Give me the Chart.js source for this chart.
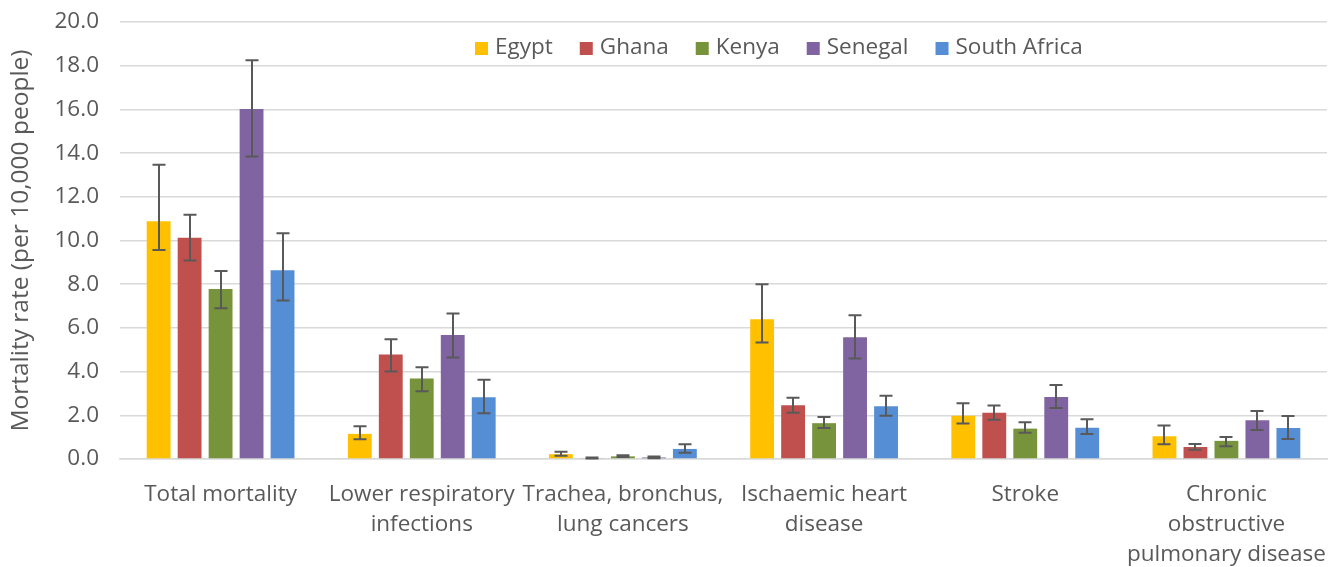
<!DOCTYPE html>
<html>
<head>
<meta charset="utf-8">
<script src="https://cdn.jsdelivr.net/npm/chart.js@4.4.0/dist/chart.umd.min.js"></script>
<style>
html, body { margin: 0; padding: 0; background: #fff; }
</style>
</head>
<body>
<canvas id="chart" width="1342" height="567"></canvas>
<script>
// categories on the x axis (multi-line labels)
var categories = [
  ["Total mortality"],
  ["Lower respiratory", "infections"],
  ["Trachea, bronchus,", "lung cancers"],
  ["Ischaemic heart", "disease"],
  ["Stroke"],
  ["Chronic", "obstructive", "pulmonary disease"]
];
var countries = ["Egypt", "Ghana", "Kenya", "Senegal", "South Africa"];
var colors = ["#FFC000", "#C0504D", "#77933C", "#8064A2", "#558ED5"];

// mortality rates per 10,000 people, with error bar ends
var egypt     = [10.88, 1.15, 0.22, 6.40, 1.98, 1.04];
var egyptLow  = [9.57, 0.90, 0.15, 5.33, 1.62, 0.67];
var egyptHigh = [13.47, 1.50, 0.33, 8.00, 2.55, 1.53];

var ghana     = [10.13, 4.78, 0.04, 2.46, 2.12, 0.55];
var ghanaLow  = [9.09, 4.00, 0.02, 2.12, 1.80, 0.42];
var ghanaHigh = [11.18, 5.48, 0.07, 2.80, 2.45, 0.69];

var kenya     = [7.78, 3.68, 0.12, 1.64, 1.39, 0.83];
var kenyaLow  = [6.90, 3.10, 0.09, 1.42, 1.20, 0.58];
var kenyaHigh = [8.60, 4.20, 0.17, 1.92, 1.68, 1.01];

var senegal     = [16.02, 5.68, 0.07, 5.57, 2.84, 1.77];
var senegalLow  = [13.84, 4.64, 0.04, 4.60, 2.33, 1.33];
var senegalHigh = [18.25, 6.66, 0.12, 6.58, 3.39, 2.20];

var southAfrica     = [8.64, 2.83, 0.46, 2.41, 1.43, 1.42];
var southAfricaLow  = [7.25, 2.09, 0.29, 1.98, 1.14, 0.92];
var southAfricaHigh = [10.33, 3.63, 0.67, 2.89, 1.82, 1.97];

var yTicks = { min: 0, max: 20, step: 2 };

var values = [egypt, ghana, kenya, senegal, southAfrica];
var lows = [egyptLow, ghanaLow, kenyaLow, senegalLow, southAfricaLow];
var highs = [egyptHigh, ghanaHigh, kenyaHigh, senegalHigh, southAfricaHigh];

var FONT = "'Open Sans', sans-serif";
var TEXT = "#595959";

var datasets = countries.map(function(name, i){
  return {
    label: name,
    data: values[i],
    errLow: lows[i],
    errHigh: highs[i],
    backgroundColor: colors[i],
    borderWidth: 0,
    categoryPercentage: 0.77,
    barPercentage: 0.77
  };
});

// draws the error bars from the y scale
var errorBars = {
  id: 'errorBars',
  afterDatasetsDraw: function(chart){
    var ctx = chart.ctx;
    var y = chart.scales.y;
    ctx.save();
    ctx.strokeStyle = "#595959";
    ctx.lineWidth = 2;
    chart.data.datasets.forEach(function(ds, i){
      var meta = chart.getDatasetMeta(i);
      meta.data.forEach(function(bar, j){
        var top = y.getPixelForValue(ds.errHigh[j]);
        var bot = y.getPixelForValue(ds.errLow[j]);
        var x = Math.round(bar.x);
        ctx.beginPath();
        ctx.moveTo(x, top); ctx.lineTo(x, bot);
        ctx.moveTo(x - 6.5, top); ctx.lineTo(x + 6.5, top);
        ctx.moveTo(x - 6.5, bot); ctx.lineTo(x + 6.5, bot);
        ctx.stroke();
      });
    });
    ctx.restore();
  }
};

// legend drawn inside the plot area like the excel one
var insideLegend = {
  id: 'insideLegend',
  afterDraw: function(chart, args, opts){
    var ctx = chart.ctx;
    ctx.save();
    ctx.font = "22.5px " + FONT;
    ctx.textBaseline = "middle";
    ctx.textAlign = "left";
    var x = opts.x;
    chart.data.datasets.forEach(function(ds){
      ctx.fillStyle = ds.backgroundColor;
      ctx.fillRect(x, opts.y - 6, 13, 13);
      x += 20;
      ctx.fillStyle = TEXT;
      ctx.fillText(ds.label, x, opts.y);
      x += ctx.measureText(ds.label).width + 27;
    });
    ctx.restore();
  }
};

var chart = new Chart(document.getElementById("chart").getContext("2d"), {
  type: 'bar',
  data: { labels: categories, datasets: datasets },
  plugins: [errorBars, insideLegend],
  options: {
    responsive: false,
    animation: false,
    layout: { padding: { top: 22, right: 15, left: 0, bottom: 0 } },
    plugins: {
      legend: { display: false },
      tooltip: { enabled: false },
      insideLegend: { x: 475, y: 48 }
    },
    scales: {
      x: {
        grid: { display: false },
        border: { display: true, color: "#d9d9d9", width: 1.5 },
        ticks: {
          color: TEXT,
          font: { family: FONT, size: 22.5, lineHeight: 1.33 },
          padding: 13,
          maxRotation: 0,
          autoSkip: false
        },
        afterFit: function(scale){ scale.height = 108; }
      },
      y: {
        min: yTicks.min,
        max: yTicks.max,
        grid: { color: "#d9d9d9", lineWidth: 1.5, drawTicks: false },
        border: { display: false },
        ticks: {
          stepSize: yTicks.step,
          color: TEXT,
          padding: 21,
          font: { family: FONT, size: 22.5 },
          callback: function(v){ return v.toFixed(1); }
        },
        title: {
          display: true,
          text: "Mortality rate (per 10,000 people)",
          color: TEXT,
          font: { family: FONT, size: 24.5 },
          padding: { top: 6, bottom: 0 }
        },
        afterFit: function(scale){
          scale.width = 120;
          scale.paddingTop = 0;
          scale.paddingBottom = 0;
        }
      }
    }
  }
});
</script>
</body>
</html>
